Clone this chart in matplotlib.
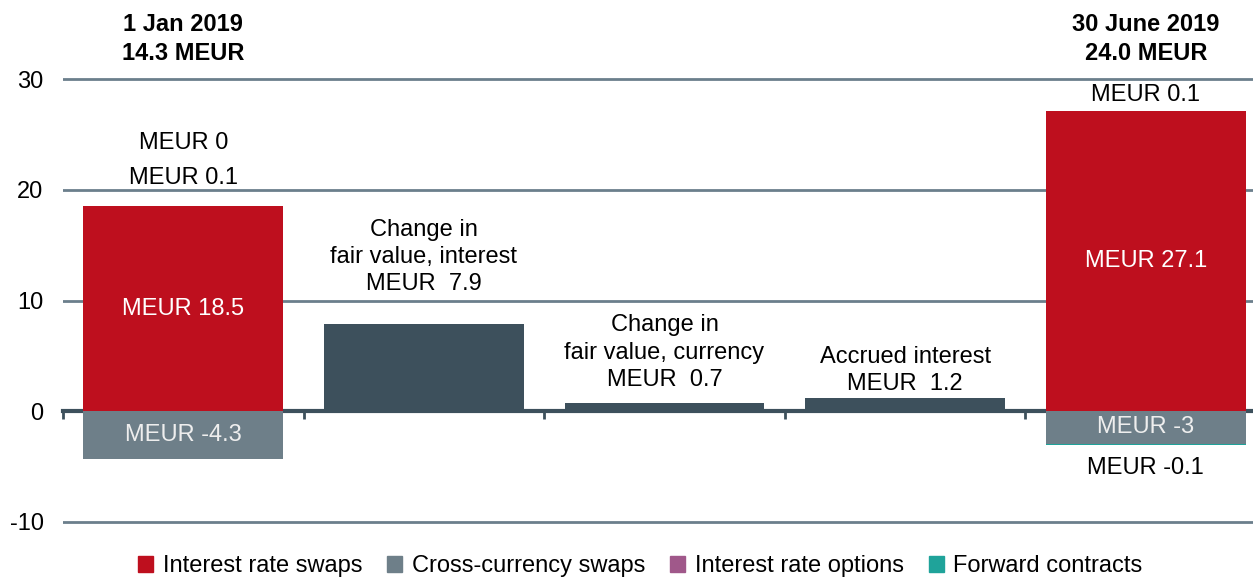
import numpy as np
import matplotlib.pyplot as plt
from matplotlib.patches import Patch

plt.rcParams['font.family'] = ['Liberation Sans', 'DejaVu Sans']

# data
x = np.arange(5)
irs = [18.5, 0, 0, 0, 27.1]          # interest rate swaps
ccs = [-4.3, 0, 0, 0, -3.0]          # cross-currency swaps
iro = [0, 0, 0, 0, 0]                # interest rate options
fwd = [0, 0, 0, 0, -0.1]             # forward contracts
changes = [0, 7.9, 0.7, 1.2, 0]      # movements during the period

change_labels = ["Change in\nfair value, interest\nMEUR  7.9",
                 "Change in\nfair value, currency\nMEUR  0.7",
                 "Accrued interest\nMEUR  1.2"]

red = '#be0f1e'
slate = '#3d505c'
grey = '#6e7f89'
purple = '#a0588a'
teal = '#1fa39a'
gridc = '#6b7f8c'

fig = plt.figure(figsize=(12.53, 5.8), dpi=100)
ax = fig.add_axes([63 / 1253, 1 - 544 / 580, 1203 / 1253, 544 / 580])

w = 0.83
ax.bar(x, irs, w, color=red, zorder=3)
ax.bar(x, ccs, w, color=grey, zorder=3)
ax.bar(x, fwd, w, bottom=ccs, color=teal, zorder=3)
ax.bar(x, changes, w, color=slate, zorder=3)

for y in [30, 20, 10, -10]:
    ax.axhline(y, color=gridc, lw=2, zorder=1)

ax.set_xlim(-0.5, 4.5)
ax.set_ylim(-12, 37.15)
ax.set_yticks([30, 20, 10, 0, -10])
ax.set_yticklabels(['30', '20', '10', '0', '-10'], fontsize=17)
ax.tick_params(axis='y', length=0, pad=14)

for s in ['top', 'right', 'left']:
    ax.spines[s].set_visible(False)
ax.spines['bottom'].set_position(('data', 0))
ax.spines['bottom'].set_color(slate)
ax.spines['bottom'].set_linewidth(3)
ax.spines['bottom'].set_zorder(2)
ax.set_xticks(np.arange(-0.5, 4.0, 1.0))
ax.set_xticklabels([])
ax.tick_params(axis='x', direction='out', length=6, width=2, color=slate)

fs = 17
# opening balance
ax.text(0, 34.9, "1 Jan 2019", ha='center', va='center', fontsize=fs, fontweight='bold')
ax.text(0, 32.3, "14.3 MEUR", ha='center', va='center', fontsize=fs, fontweight='bold')
ax.text(0, 24.2, f"MEUR {iro[0]:g}", ha='center', va='center', fontsize=fs)
ax.text(0, 21.1, "MEUR 0.1", ha='center', va='center', fontsize=fs)
ax.text(0, irs[0] / 2, f"MEUR {irs[0]}", ha='center', va='center', fontsize=fs, color='white')
ax.text(0, ccs[0] / 2, f"MEUR {ccs[0]}", ha='center', va='center', fontsize=fs, color='#eeeeee')

# movements
for i, yy in zip([1, 2, 3], [13.9, 5.3, 3.7]):
    ax.text(i, yy, change_labels[i - 1], ha='center', va='center', fontsize=fs,
            linespacing=1.3)

# closing balance
ax.text(4, 34.9, "30 June 2019", ha='center', va='center', fontsize=fs, fontweight='bold')
ax.text(4, 32.3, "24.0 MEUR", ha='center', va='center', fontsize=fs, fontweight='bold')
ax.text(4, 28.6, "MEUR 0.1", ha='center', va='center', fontsize=fs)
ax.text(4, irs[4] / 2, f"MEUR {irs[4]}", ha='center', va='center', fontsize=fs, color='white')
ax.text(4, -1.45, "MEUR -3", ha='center', va='center', fontsize=fs, color='#eeeeee', zorder=4)
ax.text(4, -5.15, f"MEUR {fwd[4]}", ha='center', va='center', fontsize=fs)

handles = [Patch(color=red), Patch(color=grey), Patch(color=purple), Patch(color=teal)]
names = ["Interest rate swaps", "Cross-currency swaps", "Interest rate options", "Forward contracts"]
fig.legend(handles, names, loc='center', bbox_to_anchor=(0.511, 1 - 566 / 580), ncol=4,
           frameon=False, fontsize=fs, handlelength=0.65, handleheight=0.65,
           handletextpad=0.4, columnspacing=1.05, borderpad=0.1)

fig.savefig("out.png", dpi=100)
